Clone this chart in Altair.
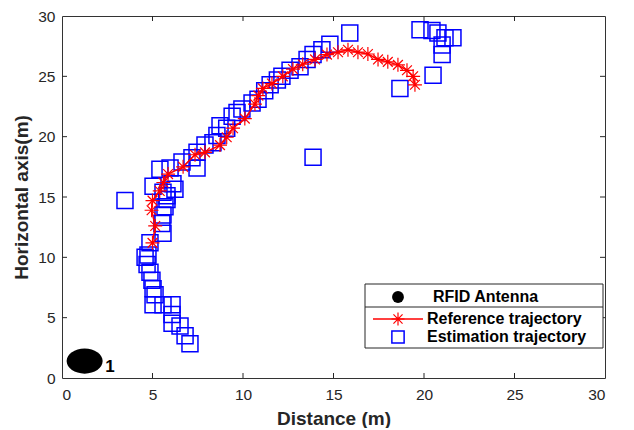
import altair as alt
import pandas as pd

# Reference trajectory (red asterisks joined by a line)
ref_x = [5.0, 5.15, 4.95, 5.0, 5.4, 5.6, 5.86, 6.69, 7.35, 7.9, 8.73, 9.1, 9.45, 10.1,
         10.66, 10.85, 11.1, 11.6, 12.2, 12.76, 13.3, 13.98, 14.64, 15.25, 15.8, 16.35,
         16.9, 17.46, 18.0, 18.56, 19.06, 19.4, 19.5]
ref_y = [11.2, 12.6, 13.9, 14.7, 15.5, 16.2, 16.9, 17.5, 18.5, 18.7, 19.3, 19.95, 20.7, 21.5,
         22.7, 23.4, 24.0, 24.4, 25.0, 25.6, 26.0, 26.4, 26.8, 27.0, 27.2, 27.0,
         26.85, 26.4, 26.2, 25.95, 25.5, 25.0, 24.3]

# Estimation trajectory (blue open squares)
est_x = [7.07, 6.8, 6.52, 6.08, 6.08, 6.08, 5.58, 5.03, 5.14, 5.03, 4.97, 4.86, 4.7, 4.75,
         4.59, 4.86, 5.58, 5.52, 5.58, 5.69, 5.8, 5.58, 5.03, 6.24, 3.48,
         5.41, 5.97, 6.63, 7.46, 7.18, 7.46, 7.9, 8.34, 8.56, 8.73, 9.1, 9.4, 9.67, 9.94,
         10.5, 6.13, 5.8,
         10.83, 11.2, 11.5, 11.9, 12.15, 12.6, 13.15, 13.54, 13.87, 14.36, 14.8, 15.9,
         13.87, 18.67, 20.5,
         19.78, 20.44, 20.77, 21.16, 21.6, 21.0, 21.0]
est_y = [2.84, 3.5, 4.3, 4.54, 5.27, 6.08, 6.08, 6.08, 6.9, 7.4, 8.1, 8.76, 9.4, 10.2,
         10.0, 11.2, 12.0, 12.8, 13.5, 14.2, 14.8, 15.4, 15.9, 15.65, 14.7,
         17.3, 17.4, 17.9, 17.4, 18.25, 18.7, 19.3, 19.5, 20.1, 20.9, 20.7, 21.7, 22.0, 22.3,
         22.8, 16.1, 15.1,
         23.1, 23.8, 24.3, 24.7, 25.0, 25.5, 25.8, 26.4, 26.8, 27.2, 27.65, 28.6,
         18.3, 24.0, 25.1,
         28.87, 28.8, 28.6, 28.2, 28.2, 27.6, 26.8]

# RFID antenna
ant_x = [1.25]
ant_y = [1.4]
ant_label = ["1"]
ant_label_x = [2.65]
ant_label_y = [0.9]

ticks = [0, 5, 10, 15, 20, 25, 30]
inner_ticks = [5, 10, 15, 20, 25]

FONT = "Liberation Sans"
TXT = "#262626"
W, H = 543, 362

ref_df = pd.DataFrame({"x": ref_x, "y": ref_y, "i": list(range(len(ref_x)))})
est_df = pd.DataFrame({"x": est_x, "y": est_y})
ant_df = pd.DataFrame({"x": ant_x, "y": ant_y})
lab_df = pd.DataFrame({"x": ant_label_x, "y": ant_label_y, "t": ant_label})
tick_df = pd.DataFrame({"v": inner_ticks})
dummy = pd.DataFrame({"a": [0]})

xscale = alt.Scale(domain=[0, 30], nice=False, zero=False)
yscale = alt.Scale(domain=[0, 30], nice=False, zero=False)

xaxis = alt.Axis(values=ticks, ticks=False, domain=False, grid=False,
                 labelFont=FONT, labelFontSize=15.5, labelColor=TXT, labelPadding=9,
                 title="Distance (m)", titleFont=FONT, titleFontSize=19,
                 titleFontWeight="bold", titleColor=TXT, titleY=40,
                 titleBaseline="middle")
yaxis = alt.Axis(values=ticks, ticks=False, domain=False, grid=False,
                 labelFont=FONT, labelFontSize=15.5, labelColor=TXT, labelPadding=7,
                 title="Horizontal axis(m)", titleFont=FONT, titleFontSize=19,
                 titleFontWeight="bold", titleColor=TXT, titleX=-41, titleY=H / 2,
                 titleAngle=270, titleAlign="center", titleBaseline="middle")

ASTERISK = "M-1,0L1,0M0,-1L0,1M-0.7,-0.7L0.7,0.7M-0.7,0.7L0.7,-0.7"
ELLIPSE = "M-1,0A1,0.7,0,1,1,1,0A1,0.7,0,1,1,-1,0Z"

squares = alt.Chart(est_df).mark_point(
    shape="square", filled=False, color="#0000ff", strokeWidth=1.5, size=256, opacity=1
).encode(x=alt.X("x:Q", scale=xscale, axis=xaxis), y=alt.Y("y:Q", scale=yscale, axis=yaxis))

ref_line = alt.Chart(ref_df).mark_line(color="#ff0000", strokeWidth=1.5).encode(
    x=alt.X("x:Q", scale=xscale), y=alt.Y("y:Q", scale=yscale), order="i:Q")

stars = alt.Chart(ref_df).mark_point(
    shape=ASTERISK, filled=False, color="#ff0000", strokeWidth=1.2, size=196, opacity=1
).encode(x=alt.X("x:Q", scale=xscale), y=alt.Y("y:Q", scale=yscale))

antenna = alt.Chart(ant_df).mark_point(
    shape=ELLIPSE, filled=True, color="black", size=1296, opacity=1
).encode(x=alt.X("x:Q", scale=xscale), y=alt.Y("y:Q", scale=yscale))

ant_text = alt.Chart(lab_df).mark_text(
    font=FONT, fontSize=17, fontWeight="bold", color="black", align="center", baseline="middle"
).encode(x=alt.X("x:Q", scale=xscale), y=alt.Y("y:Q", scale=yscale), text="t:N")

# inward ticks on all four sides
tick_color = "#262626"
tb = alt.Chart(tick_df).mark_rule(color=tick_color, strokeWidth=1).encode(
    x=alt.X("v:Q", scale=xscale), y=alt.value(H), y2=alt.value(H - 5))
tt = alt.Chart(tick_df).mark_rule(color=tick_color, strokeWidth=1).encode(
    x=alt.X("v:Q", scale=xscale), y=alt.value(0), y2=alt.value(5))
tl = alt.Chart(tick_df).mark_rule(color=tick_color, strokeWidth=1).encode(
    y=alt.Y("v:Q", scale=yscale), x=alt.value(0), x2=alt.value(5))
tr = alt.Chart(tick_df).mark_rule(color=tick_color, strokeWidth=1).encode(
    y=alt.Y("v:Q", scale=yscale), x=alt.value(W), x2=alt.value(W - 5))

# legend box
lx0, lx1, ly0, ly1 = 303, 541, 268, 332
lc = 336
box = alt.Chart(dummy).mark_rect(fill="white", stroke="#262626", strokeWidth=1).encode(
    x=alt.value(lx0), x2=alt.value(lx1), y=alt.value(ly0), y2=alt.value(ly1))
sep = alt.Chart(dummy).mark_rule(color="#262626", strokeWidth=1).encode(
    x=alt.value(lx0), x2=alt.value(lx1), y=alt.value(291))
leg_dot = alt.Chart(dummy).mark_point(shape="circle", filled=True, color="black", size=140, opacity=1).encode(
    x=alt.value(lc), y=alt.value(281))
leg_line = alt.Chart(dummy).mark_rule(color="#ff0000", strokeWidth=1.5).encode(
    x=alt.value(lc - 25), x2=alt.value(lc + 25), y=alt.value(303))
leg_star = alt.Chart(dummy).mark_point(shape=ASTERISK, filled=False, color="#ff0000", strokeWidth=1.2,
                                       size=169, opacity=1).encode(x=alt.value(lc), y=alt.value(303))
leg_sq = alt.Chart(dummy).mark_point(shape="square", filled=False, color="#0000ff", strokeWidth=1.5,
                                     size=150, opacity=1).encode(x=alt.value(lc), y=alt.value(321))
leg_t1 = alt.Chart(dummy).mark_text(text="RFID Antenna", font=FONT, fontSize=16, fontWeight="bold",
                                    color="black", align="left", baseline="middle").encode(
    x=alt.value(371), y=alt.value(281))
leg_t2 = alt.Chart(dummy).mark_text(text="Reference trajectory", font=FONT, fontSize=16, fontWeight="bold",
                                    color="black", align="left", baseline="middle").encode(
    x=alt.value(365), y=alt.value(303))
leg_t3 = alt.Chart(dummy).mark_text(text="Estimation trajectory", font=FONT, fontSize=16, fontWeight="bold",
                                    color="black", align="left", baseline="middle").encode(
    x=alt.value(365), y=alt.value(321))

chart = alt.layer(
    squares, ref_line, stars, antenna, ant_text, tb, tt, tl, tr,
    box, sep, leg_dot, leg_line, leg_star, leg_sq, leg_t1, leg_t2, leg_t3
).properties(
    width=W, height=H,
    autosize=alt.AutoSizeParams(type="none"),
    padding={"left": 54, "top": 8, "right": 20, "bottom": 50},
    background="white",
).configure_view(stroke="#333333", strokeWidth=1)

chart.save("out.html", embed_options={"renderer": "svg", "actions": False})
